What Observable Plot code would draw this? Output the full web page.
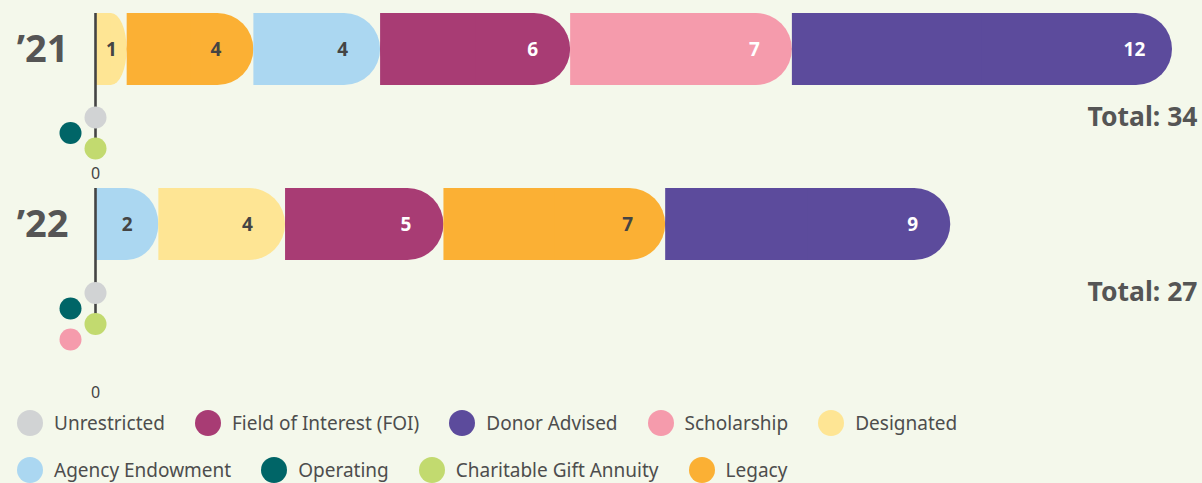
<!DOCTYPE html>
<html><head><meta charset="utf-8">
<script src="https://cdn.jsdelivr.net/npm/d3@7"></script>
<script src="https://cdn.jsdelivr.net/npm/@observablehq/plot@0.6"></script>
<style>
body{margin:0;background:#f4f8eb;font-family:"Noto Sans",sans-serif;}
#chart{width:1202px;}
#chart svg{display:block;overflow:visible;}
.legend{display:flex;flex-wrap:wrap;width:1000px;padding-left:17px;row-gap:20px;margin-top:4px;}
.item{display:flex;align-items:center;margin-right:30px;font-size:19px;color:#4d4d4d;height:27px;white-space:nowrap;}
.sw{width:26px;height:26px;border-radius:50%;margin-right:11px;flex:none;}
</style></head><body>
<div id="chart"></div>
<script>
// Categories and colours (legend order)
const categories = ["Unrestricted","Field of Interest (FOI)","Donor Advised","Scholarship","Designated","Agency Endowment","Operating","Charitable Gift Annuity","Legacy"];
const colors = ["#d1d3d4","#a83c74","#5c4b9c","#f59bac","#fee594","#abd7f1","#006567","#c2da6f","#fbb034"];
const darkFill = ["Field of Interest (FOI)","Donor Advised","Scholarship","Operating"];

// Years
const years = ["\u201921","\u201922"];
// 2021 (bar order, then zero categories)
const order21 = ["Designated","Legacy","Agency Endowment","Field of Interest (FOI)","Scholarship","Donor Advised","Unrestricted","Operating","Charitable Gift Annuity"];
const values21 = [1,4,4,6,7,12,0,0,0];
// 2022
const order22 = ["Agency Endowment","Designated","Field of Interest (FOI)","Legacy","Donor Advised","Unrestricted","Operating","Charitable Gift Annuity","Scholarship"];
const values22 = [2,4,5,7,9,0,0,0,0];
const xTicks = [0];

function makePlot(year, order, values, cfg) {
  const rows = order.map((c, i) => ({year, cat: c, value: values[i]}));
  let acc = 0;
  const bars = rows.filter(d => d.value > 0).map(d => {
    const x1 = acc; acc += d.value; const x2 = acc;
    return {...d, x1, x2, xm: (x1 + x2) / 2, xl: x2 - Math.min(1.2, d.value / 2)};
  });
  const total = acc;
  const zeros = rows.filter(d => d.value === 0);
  const xMax = d3.max([d3.sum(values21), d3.sum(values22)]);
  const dotMarks = zeros.map((z, i) => Plot.dot([z], {
    x: () => 0, y: "year", fill: "cat", r: 11,
    dx: i % 2 ? -25 : 0, dy: cfg.dot0 + 15.5 * i
  }));
  return Plot.plot({
    width: 1202, height: cfg.height,
    marginLeft: 95, marginRight: 30, marginTop: cfg.mt, marginBottom: 28,
    style: {background: "transparent", fontFamily: "Noto Sans", overflow: "visible"},
    x: {domain: [0, xMax]},
    y: {domain: [year], range: [cfg.mt, cfg.mt + 72], padding: 0},
    color: {domain: categories, range: colors},
    marks: [
      Plot.barX(bars, {x1: "x1", x2: "x2", y: "year", fill: "cat", rx: 36, ry: 36}),
      Plot.barX(bars, {x1: "x1", x2: "xm", y: "year", fill: "cat"}),
      Plot.text(bars.filter(d => !darkFill.includes(d.cat)), {x: "xl", y: "year", text: d => String(d.value), fill: "#444", fontSize: 19, fontWeight: 700}),
      Plot.text(bars.filter(d => darkFill.includes(d.cat)), {x: "xl", y: "year", text: d => String(d.value), fill: "#fff", fontSize: 19, fontWeight: 700}),
      Plot.ruleX(xTicks, {stroke: "#444", strokeWidth: 2.6, insetBottom: cfg.ruleInset}),
      ...dotMarks,
      Plot.text([{year, total}], {y: "year", frameAnchor: "right", text: d => `Total: ${d.total}`, textAnchor: "end", dx: 25, dy: cfg.dot0, fontSize: 26.5, fontWeight: 700, fill: "#555"}),
      Plot.axisY({tickSize: 0, tickPadding: 27, fontSize: 38, fontWeight: 700, color: "#555", label: null}),
      Plot.axisX({ticks: xTicks, tickSize: 0, tickPadding: 9, fontSize: 16, color: "#444", label: null})
    ]
  });
}

const chart = document.getElementById("chart");
chart.append(makePlot(years[0], order21, values21, {height: 186, mt: 13, dot0: 68, ruleInset: 10}));
chart.append(makePlot(years[1], order22, values22, {height: 219, mt: 2, dot0: 68.5, ruleInset: 53}));

const legend = document.createElement("div");
legend.className = "legend";
categories.forEach((c, i) => {
  const it = document.createElement("div"); it.className = "item";
  const sw = document.createElement("span"); sw.className = "sw"; sw.style.background = colors[i];
  const tx = document.createElement("span"); tx.textContent = c;
  it.append(sw, tx); legend.append(it);
});
chart.append(legend);
</script>
</body></html>
